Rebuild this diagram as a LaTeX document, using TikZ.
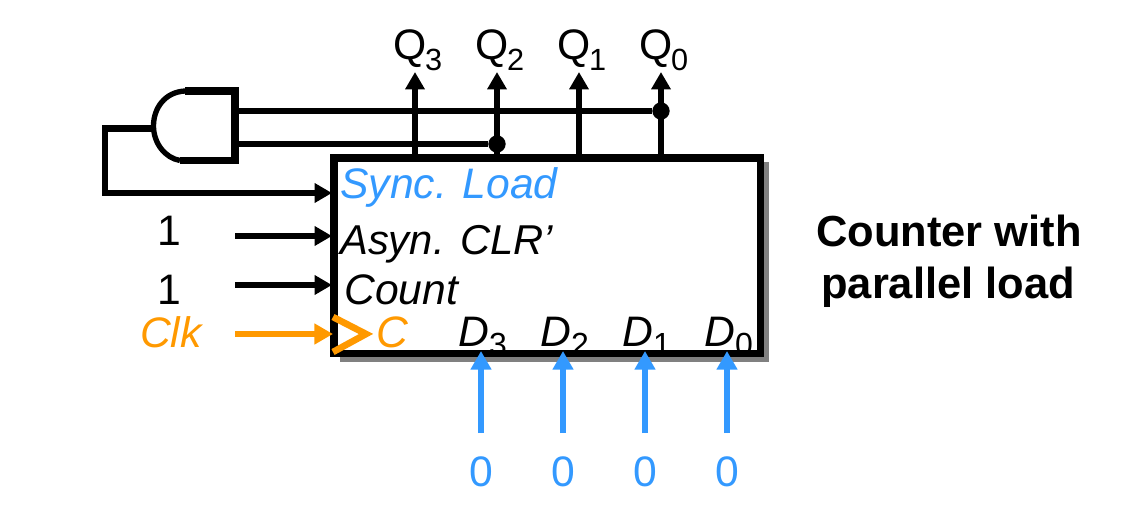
\documentclass[tikz,border=0pt]{standalone}
\usepackage{fontspec}
\setmainfont{Liberation Sans}
\usetikzlibrary{arrows.meta}
\definecolor{cblue}{HTML}{3399FF}
\definecolor{corange}{HTML}{FF9900}
\newcommand{\sbs}[1]{\raisebox{-7pt}{\fontsize{24}{28}\selectfont\upshape #1}}
\newcommand{\qsb}[1]{\raisebox{-8pt}{\fontsize{23}{28}\selectfont\upshape #1}}
\tikzset{
  lbl/.style={inner sep=0pt,anchor=base west,font=\fontsize{32}{38}\selectfont},
  lblc/.style={inner sep=0pt,anchor=base,font=\fontsize{32}{38}\selectfont},
  wire/.style={line width=4pt,line cap=butt},
  arr/.style={wire,-{Triangle[length=13pt,width=14pt]}},
  colarr/.style={line width=4.8pt,line cap=butt,-{Triangle[length=14pt,width=15pt]}},
  blk/.style={draw=black,line width=5.3pt,miter limit=10},
  dotn/.style={circle,fill=black,inner sep=0pt,minimum size=13pt},
}
\begin{document}
\begin{tikzpicture}[x=0.75pt,y=-0.75pt]
\useasboundingbox (0,0) rectangle (1131,524);
% block
\fill[black!50] (340,162) rectangle (769,362);
\fill[white] (334,158) rectangle (760.5,353.5);
\node[lbl,text=cblue] (sl) at (340,199) {\itshape Sync. Load};
\node[lbl,font=\fontsize{31.3}{38}\selectfont] (ac) at (340,254) {\itshape Asyn. CLR’};
\node[lbl] (cn) at (344,304) {\itshape Count};
\node[lbl,text=corange,font=\fontsize{33}{38}\selectfont] (cc) at (376,347) {\itshape C};
\node[lbl] (d3) at (458,346) {\itshape D\sbs{3}};
\node[lbl] (d2) at (540,346) {\itshape D\sbs{2}};
\node[lbl] (d1) at (622,346) {\itshape D\sbs{1}};
\node[lbl] (d0) at (704,346) {\itshape D\sbs{0}};
\draw[blk] (334,158) rectangle (760.5,353.5);
\coordinate (tq3) at (415,155);
\coordinate (tq2) at (497,155);
\coordinate (tq1) at (579,155);
\coordinate (tq0) at (661,155);
% Q labels
\node[lbl] (q3) at (393,60) {Q\kern-1pt\qsb{3}};
\node[lbl] (q2) at (475,60) {Q\kern-1pt\qsb{2}};
\node[lbl] (q1) at (557,60) {Q\kern-1pt\qsb{1}};
\node[lbl] (q0) at (639,60) {Q\kern-1pt\qsb{0}};
\coordinate (hq3) at (415,72);
\coordinate (hq2) at (497,72);
\coordinate (hq1) at (579,72);
\coordinate (hq0) at (661,72);
\draw[arr] (tq3) -- (hq3);
\draw[arr] (tq2) -- (hq2);
\draw[arr] (tq1) -- (hq1);
\draw[arr] (tq0) -- (hq0);
% AND gate
\coordinate (gatetop) at (185,91);
\coordinate (gatetr) at (235,91);
\coordinate (gatebr) at (235,160.5);
\coordinate (gatebot) at (180,160.5);
\coordinate (gateleft) at (153.5,126);
\draw[line width=4pt] (gatebot) .. controls (165,158) and (153.5,143) .. (gateleft) .. controls (153.5,108) and (165,92) .. (gatetop);
\draw[blk,line cap=butt] (gatetop) -- (gatetr) -- (gatebr) -- (gatebot);
\node[dotn] (dot0) at (661,111) {};
\node[dotn] (dot2) at (497,144) {};
\coordinate (go1) at (238,111);
\coordinate (go2) at (238,144);
\draw[wire,line width=4.2pt] (go1) -- (dot0);
\draw[wire,line width=4.2pt] (go2) -- (dot2);
% feedback
\coordinate (fb1) at (153,128.5);
\coordinate (fb2) at (105,128.5);
\coordinate (fb3) at (105,195.5);
\coordinate (sbeg) at (102,193);
\coordinate (sin) at (332,193);
\draw[line width=5pt,line join=miter,line cap=butt] (fb1) -- (fb2) -- (fb3);
\draw[arr] (sbeg) -- (sin);
% inputs
\node[lblc] (one1) at (169,245) {1};
\node[lblc] (one2) at (169,304) {1};
\node[lblc,text=corange] (clk) at (171,347) {\itshape Clk};
\coordinate (i1) at (235,236);
\coordinate (i1e) at (332,236);
\coordinate (i2) at (235,285);
\coordinate (i2e) at (332,285);
\coordinate (i3) at (235,334);
\coordinate (i3e) at (333,334);
\draw[arr] (i1) -- (i1e);
\draw[arr] (i2) -- (i2e);
\draw[colarr,draw=corange,fill=corange] (i3) -- (i3e);
\coordinate (ca) at (333,317);
\coordinate (cb) at (366,334);
\coordinate (cc2) at (333,352);
\draw[corange,line width=5pt,miter limit=10] (ca) -- (cb) -- (cc2);
% zeros
\node[lblc,text=cblue] (z3) at (481,486) {0};
\node[lblc,text=cblue] (z2) at (563,486) {0};
\node[lblc,text=cblue] (z1) at (645,486) {0};
\node[lblc,text=cblue] (z0) at (727,486) {0};
\foreach \n/\x in {3/481,2/563,1/645,0/727}{
  \coordinate (bs\n) at (\x,433);
  \coordinate (bt\n) at (\x,351);
  \draw[colarr,draw=cblue,fill=cblue] (bs\n) -- (bt\n);
}
% caption
\node[lbl,font=\fontsize{32.6}{38}\selectfont] (cap1) at (816,246) {\bfseries Counter with};
\node[lbl,font=\fontsize{32.6}{38}\selectfont] (cap2) at (821,298) {\bfseries parallel load};
\end{tikzpicture}
\end{document}
